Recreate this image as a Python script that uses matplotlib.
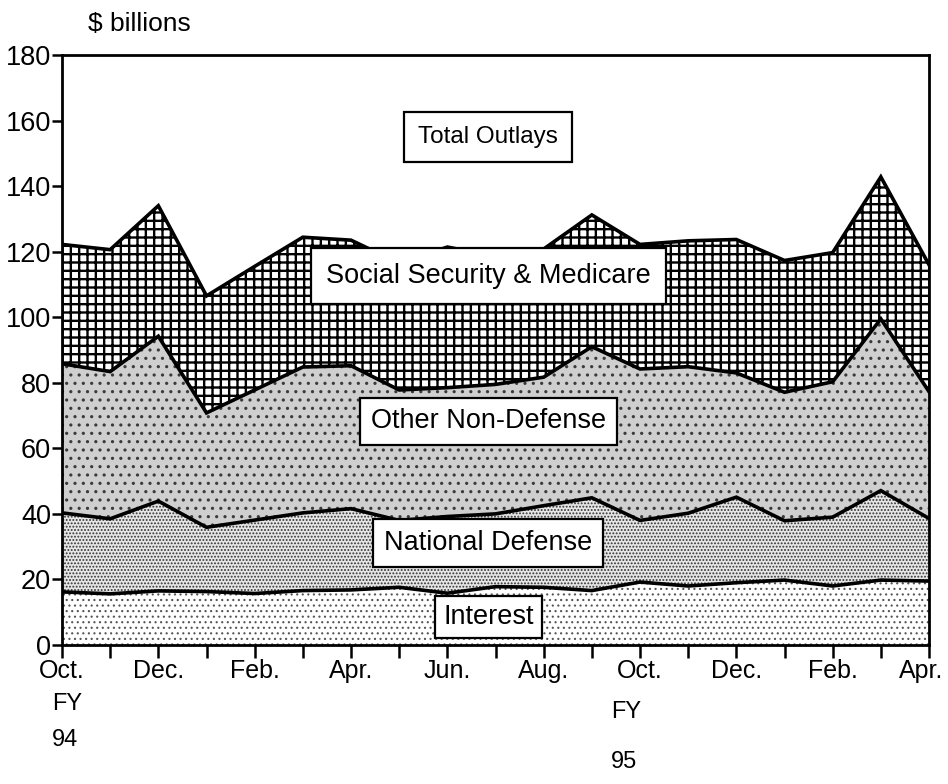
import matplotlib
matplotlib.use("Agg")
import matplotlib.pyplot as plt
import matplotlib.transforms as mtransforms
import numpy as np

plt.rcParams['font.family'] = ['Liberation Sans', 'DejaVu Sans']

# Monthly outlays, Oct. FY94 through Apr. FY95 ($ billions)
months = ["Oct.", "Nov.", "Dec.", "Jan.", "Feb.", "Mar.", "Apr.", "May", "Jun.",
          "Jul.", "Aug.", "Sep.", "Oct.", "Nov.", "Dec.", "Jan.", "Feb.", "Mar.", "Apr."]
interest = [16.2, 15.6, 16.5, 16.3, 15.7, 16.6, 16.8, 17.6, 15.8, 17.8,
            17.6, 16.6, 19.2, 18.0, 19.0, 19.8, 18.0, 19.8, 19.5]
national_defense = [24.1, 22.9, 27.4, 19.6, 22.4, 23.7, 24.8, 20.4, 23.4, 22.2,
                    24.9, 28.3, 18.8, 22.2, 26.1, 18.1, 21.0, 27.3, 19.1]
other_non_defense = [45.5, 44.9, 50.3, 34.9, 39.7, 44.5, 43.6, 39.8, 39.3, 39.5,
                     39.2, 46.1, 46.2, 44.7, 37.9, 39.2, 41.3, 52.4, 38.7]
ss_medicare = [36.4, 37.2, 39.8, 35.7, 37.7, 39.6, 38.3, 38.7, 42.9, 39.1,
               39.1, 40.2, 38.0, 38.4, 40.7, 40.2, 39.4, 43.3, 38.7]
y_ticks = [0, 20, 40, 60, 80, 100, 120, 140, 160, 180]

x = np.arange(len(months))
layers = [interest, national_defense, other_non_defense, ss_medicare]
tops = np.cumsum(np.array(layers, dtype=float), axis=0)
bottoms = np.vstack([np.zeros(len(months)), tops[:-1]])

fig = plt.figure(figsize=(9.48, 7.84), dpi=100)
ax = fig.add_axes([62 / 948, 0.1773, 867 / 948, 0.7526])

# fill styles for each band: (facecolor, hatch, hatch colour, hatch linewidth)
styles = [
    ("white", "...", "#555555", 0.8),
    ("#e6e6e6", ".....", "#333333", 0.9),
    ("#cfcfcf", "..", "#3a3a3a", 1.1),
    ("white", "++", "black", 1.7),
]
for (fc, hatch, hc, hlw), lo, hi in zip(styles, bottoms, tops):
    with plt.rc_context({"hatch.linewidth": hlw}):
        poly = ax.fill_between(x, lo, hi, facecolor=fc, edgecolor=hc,
                               hatch=hatch, linewidth=0, zorder=1)
    if hasattr(poly, "set_hatch_linewidth"):
        poly.set_hatch_linewidth(hlw)

for hi in tops:
    ax.plot(x, hi, color="black", linewidth=2.6, solid_joinstyle="miter", zorder=3)

ax.set_xlim(0, len(months) - 1)
ax.set_ylim(0, 180)
ax.set_yticks(y_ticks)
ax.set_yticklabels([str(v) for v in y_ticks], fontsize=19.5)
ax.set_xticks(x)
ax.set_xticklabels([m if i % 2 == 0 else "" for i, m in enumerate(months)], fontsize=18)
ax.tick_params(axis="x", direction="out", length=9, width=1.8, pad=1)
ax.tick_params(axis="y", direction="out", length=7, width=1.8, pad=1)
last = ax.get_xticklabels()[-1]
last.set_transform(last.get_transform() + mtransforms.ScaledTranslation(-8 / 100, 0, fig.dpi_scale_trans))
for sp in ax.spines.values():
    sp.set_linewidth(2.0)
    sp.set_zorder(6)

# band labels: (text, y value, font size, box padding)
labels = [("Total Outlays", 155, 17.5, 0.58),
          ("Social Security & Medicare", 112.5, 19.5, 0.55),
          ("Other Non-Defense", 68.2, 19.5, 0.4),
          ("National Defense", 31.1, 19.5, 0.4),
          ("Interest", 8.5, 19.5, 0.3)]
for text, yv, fs, pad in labels:
    b = dict(boxstyle=f"square,pad={pad}", facecolor="white", edgecolor="black", linewidth=1.6)
    ax.text(8.85, yv, text, ha="center", va="center", fontsize=fs, bbox=b, zorder=7)

fig.text(88 / 948, 1 - 24 / 784, r"\$ billions", ha="left", va="center", fontsize=19)

trans = mtransforms.blended_transform_factory(ax.transData, fig.transFigure)
ax.text(-0.2, 1 - 704 / 784, "FY", transform=trans, ha="left", va="center", fontsize=17)
ax.text(-0.2, 1 - 740 / 784, "94", transform=trans, ha="left", va="center", fontsize=17)
ax.text(11.4, 1 - 712 / 784, "FY", transform=trans, ha="left", va="center", fontsize=17)
ax.text(11.4, 1 - 762 / 784, "95", transform=trans, ha="left", va="center", fontsize=17)

fig.savefig("out.png", dpi=100)
